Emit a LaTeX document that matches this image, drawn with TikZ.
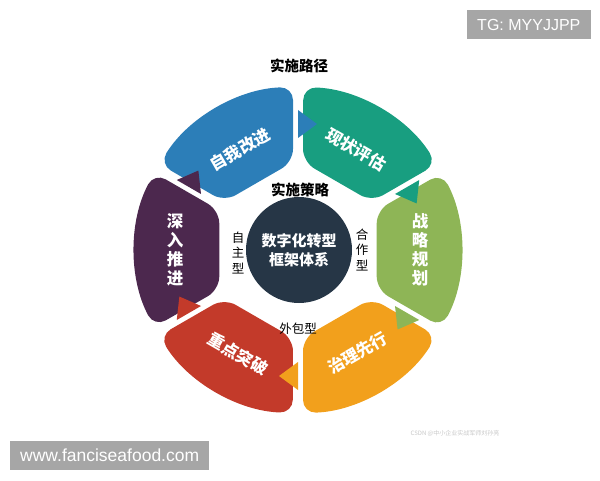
\documentclass[tikz,border=0pt]{standalone}
\usepackage{fontspec}
\newfontfamily\cjk{Noto Sans CJK SC}
\newfontfamily\wmfont{Liberation Sans}
\definecolor{segblue}{RGB}{44,126,184}
\definecolor{segteal}{RGB}{24,158,128}
\definecolor{seglime}{RGB}{142,181,86}
\definecolor{segorange}{RGB}{242,160,28}
\definecolor{segred}{RGB}{195,58,42}
\definecolor{segplum}{RGB}{76,40,78}
\definecolor{corenavy}{RGB}{38,54,70}
\definecolor{wmgray}{RGB}{166,166,166}
\tikzset{
	segtext/.style={text=white, font=\cjk\bfseries\fontsize{16.5}{19}\selectfont, align=center, inner sep=0pt},
	sidetext/.style={font=\cjk\fontsize{12.5}{15.5}\selectfont, align=center, inner sep=0pt},
	headtext/.style={font=\cjk\bfseries\fontsize{14.5}{16}\selectfont, inner sep=0pt},
	wmbox/.style={fill=wmgray, text=white, inner sep=0pt}
}
\begin{document}
\begin{tikzpicture}[x=1pt, y=1pt]
			\useasboundingbox (0,0) rectangle (600,480);
			\begin{scope}[shift={(298,230)}]
			\foreach \m/\col/\txt/\rot/\r in {120/segblue/自我改进/30/116, 60/segteal/现状评估/-30/116, 0/seglime/{战\\略\\规\\划}/0/122, -60/segorange/治理先行/30/119, -120/segred/重点突破/-30/120, 180/segplum/{深\\入\\推\\进}/0/123}{
				\fill[\col, rounded corners=13pt] ([shift={(\m-60:5)}]\m+30:88) -- ([shift={(\m+60:5)}]\m-30:88) -- ([shift={(\m+60:5)}]\m-30:163) arc[start angle=\m-28.2, end angle=\m+28.2, radius=163] -- cycle;
				\node[segtext, rotate=\rot] (seg\m) at (\m:\r) {\txt};
			}
			\foreach \g/\col in {90/segblue, 30/segteal, -30/seglime, -90/segorange, -150/segred, 150/segplum}
				\fill[\col] (\g:112) -- (\g:140) -- ([shift={(\g-90:19)}]\g:126) -- cycle;
			\node[circle, fill=corenavy, minimum size=106pt, text=white, font=\cjk\bfseries\fontsize{15}{19}\selectfont, align=center] (core) at (1,0) {数字化转型\\框架体系};
			\node[headtext] (route) at (1,184) {实施路径};
			\node[headtext] (strategy) at (2,60) {实施策略};
			\node[sidetext] (self) at (-60,-3) {自\\主\\型};
			\node[sidetext] (coop) at (64,0) {合\\作\\型};
			\node[sidetext] (outsrc) at (0,-79) {外包型};
			\end{scope}
			\node[font=\cjk\fontsize{6}{7}\selectfont, text=black!22] (csdn) at (455,47) {CSDN @中小企业实战军师刘孙亮};
			\node[wmbox, minimum width=124pt, minimum height=29pt, anchor=north east, font=\wmfont\fontsize{16}{18}\selectfont] (tg) at (591,470) {TG: MYYJJPP};
			\node[wmbox, minimum width=199pt, minimum height=29pt, anchor=south west, font=\wmfont\fontsize{17.5}{19}\selectfont] (site) at (10,10) {www.fanciseafood.com};
			\end{tikzpicture}
\end{document}
